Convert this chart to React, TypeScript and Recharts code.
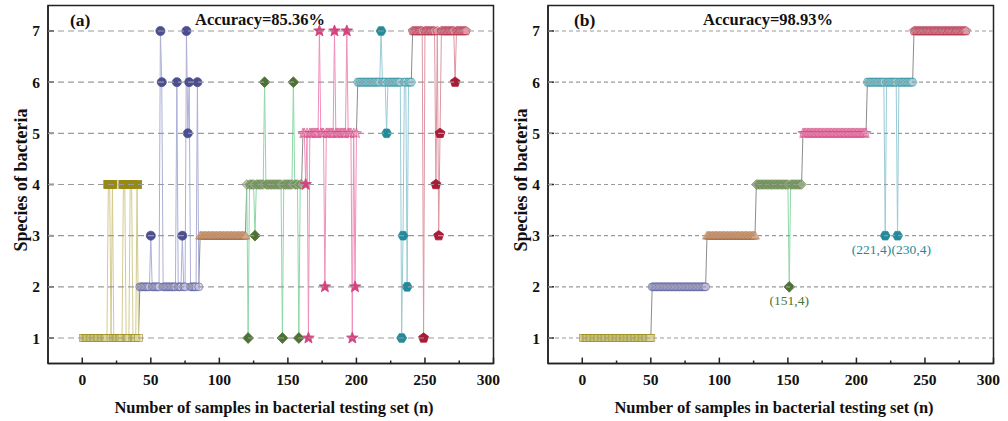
import React from 'react';
import { ScatterChart, Scatter, XAxis, YAxis, ReferenceLine, ReferenceArea } from 'recharts';

const speciesIds = [1, 2, 3, 4, 5, 6, 7];
const speciesColors = ['#968a14', '#4b4e90', '#a9693c', '#4d7233', '#d6407e', '#238a9b', '#a91b36'];
const speciesFills = ['#ddd59c', '#c4c5e4', '#d7aa86', '#8fae78', '#f0a0c4', '#a6d4dc', '#e39aa8'];
const speciesLines = ['#d3cb8f', '#adafd6', '#caa283', '#8ed8a8', '#ef90ba', '#99ccd6', '#dd96a3'];
const speciesMarkers = ['square', 'circle', 'triangle', 'diamond', 'star', 'hexagon', 'pentagon'];

// (a): last sample of each species block, and the misclassified samples
const blockEndA = [41, 85, 119, 160, 200, 240, 280];
const wrongSampleA = [19, 20, 22, 30, 31, 35, 36, 40, 50, 57, 58, 69, 73, 76, 77, 78, 84, 121, 126, 133, 146, 154, 158, 163, 165, 173, 177, 184, 193, 197, 199, 218, 222, 233, 234, 237, 249, 258, 260, 261, 272];
const wrongPredA = [4, 4, 4, 4, 4, 4, 4, 4, 3, 7, 6, 6, 3, 7, 5, 6, 6, 1, 3, 6, 1, 6, 1, 4, 1, 7, 2, 7, 7, 1, 2, 7, 5, 1, 3, 2, 1, 4, 3, 5, 6];

// (b)
const blockEndB = [50, 90, 126, 160, 207, 241, 280];
const wrongSampleB = [151, 221, 230];
const wrongPredB = [2, 3, 3];
const notesB = ['(151,4)', '(221,4)', '(230,4)'];
const noteAnchorB = ['middle', 'end', 'start'];

const xTicks = [0, 50, 100, 150, 200, 250, 300];
const xMinorTicks = [25, 75, 125, 175, 225, 275];
const yTicks = [1, 2, 3, 4, 5, 6, 7];

const serif = "'Liberation Serif', 'Times New Roman', serif";

type Pt = { x: number; y: number; note?: string };

function buildBlocks(blockEnd: number[], wrongSample: number[], wrongPred: number[], notes?: string[]) {
  const blocks: Pt[][] = [];
  let n = 1;
  blockEnd.forEach((end, i) => {
    const pts: Pt[] = [];
    for (; n <= end; n++) {
      const k = wrongSample.indexOf(n);
      pts.push({ x: n, y: k >= 0 ? wrongPred[k] : speciesIds[i], note: k >= 0 && notes ? notes[k] : undefined });
    }
    blocks.push(pts);
  });
  return blocks;
}

function ring(cx: number, cy: number, n: number, rad: number, start: number, inner?: number) {
  const count = inner ? n * 2 : n;
  const pts: string[] = [];
  for (let k = 0; k < count; k++) {
    const a = start + (k * 2 * Math.PI) / count;
    const rr = inner && k % 2 ? inner : rad;
    pts.push(`${(cx + rr * Math.cos(a)).toFixed(2)},${(cy + rr * Math.sin(a)).toFixed(2)}`);
  }
  return pts.join(' ');
}

function markerNode(kind: string, cx: number, cy: number, r: number, style: any) {
  const up = -Math.PI / 2;
  switch (kind) {
    case 'square':
      return <rect x={cx - r} y={cy - r * 0.9} width={2 * r} height={1.8 * r} {...style} />;
    case 'circle':
      return <circle cx={cx} cy={cy} r={r} {...style} />;
    case 'triangle':
      return <polygon points={ring(cx, cy + r * 0.2, 3, r * 1.3, up)} {...style} />;
    case 'diamond':
      return <polygon points={ring(cx, cy, 4, r * 1.2, up)} {...style} />;
    case 'star':
      return <polygon points={ring(cx, cy, 5, r * 1.35, up, r * 0.58)} {...style} />;
    case 'hexagon':
      return <polygon points={ring(cx, cy, 6, r * 1.1, 0)} {...style} />;
    default:
      return <polygon points={ring(cx, cy, 5, r * 1.15, up)} {...style} />;
  }
}

const empty = () => <g />;

function Panel({ blocks, dash }: { blocks: Pt[][]; dash: string }) {
  const joins = blocks.slice(1).map((b, i) => [blocks[i][blocks[i].length - 1], b[0]]);

  const renderMarker = (props: any, i: number) => {
    const { cx, cy, payload } = props;
    if (cx == null || cy == null) return <g />;
    const wrong = payload.y !== speciesIds[i];
    const style = wrong
      ? { fill: speciesColors[i], stroke: speciesColors[i], strokeWidth: 0.8 }
      : { fill: speciesFills[i], fillOpacity: 0.55, stroke: speciesColors[i], strokeOpacity: 0.8, strokeWidth: 0.7 };
    const k = payload.note ? notesB.indexOf(payload.note) : -1;
    const anchor = k >= 0 ? noteAnchorB[k] : 'middle';
    const dx = anchor === 'end' ? 6 : anchor === 'start' ? -6 : 0;
    return (
      <g>
        {markerNode(speciesMarkers[i], cx, cy, wrong ? 4.5 : 4, style)}
        {payload.note && (
          <text x={cx + dx} y={cy + 18.5} textAnchor={anchor} fontFamily={serif} fontSize={13.5} fill={speciesColors[i]}>
            {payload.note}
          </text>
        )}
      </g>
    );
  };

  const tickStyle = { fontFamily: serif, fontSize: 15.5, fontWeight: 'bold', fill: '#111' };

  return (
    <ScatterChart width={500} height={421} margin={{ top: 5.4, right: 6.5, bottom: 0, left: 0 }}>
      <XAxis
        type="number"
        dataKey="x"
        domain={[-25, 300]}
        ticks={xTicks}
        allowDataOverflow
        height={57.4}
        tickSize={-6}
        tickMargin={16}
        axisLine={{ stroke: '#222', strokeWidth: 1.5 }}
        tickLine={{ stroke: '#222', strokeWidth: 1.5 }}
        tick={tickStyle}
      />
      <YAxis
        type="number"
        dataKey="y"
        domain={[0.5, 7.5]}
        ticks={yTicks}
        allowDataOverflow
        width={48}
        tickSize={-6}
        tickMargin={14}
        axisLine={{ stroke: '#222', strokeWidth: 1.5 }}
        tickLine={{ stroke: '#222', strokeWidth: 1.5 }}
        tick={tickStyle}
      />
      <ReferenceArea x1={-25} x2={300} y1={0.5} y2={7.5} fill="none" stroke="#222" strokeWidth={1.5} />
      {joins.map((seg, i) => (
        <Scatter key={'j' + i} data={seg} line={{ stroke: '#8c8c8c', strokeWidth: 1 }} shape={empty} isAnimationActive={false} />
      ))}
      {blocks.map((b, i) => (
        <Scatter key={'l' + i} data={b} line={{ stroke: speciesLines[i], strokeWidth: 1 }} shape={empty} isAnimationActive={false} />
      ))}
      {blocks.map((b, i) => (
        <Scatter key={'m' + i} data={b} shape={(p: any) => renderMarker(p, i)} isAnimationActive={false} />
      ))}
      {yTicks.map((t) => (
        <ReferenceLine key={'g' + t} y={t} stroke="#9a9a9a" strokeWidth={1.2} strokeDasharray={dash} zIndex={700} />
      ))}
      {xMinorTicks.map((t) => (
        <ReferenceLine key={'mt' + t} segment={[{ x: t, y: 0.5 }, { x: t, y: 0.56 }]} stroke="#222" strokeWidth={1.5} />
      ))}
    </ScatterChart>
  );
}

export default function App() {
  const blocksA = buildBlocks(blockEndA, wrongSampleA, wrongPredA);
  const blocksB = buildBlocks(blockEndB, wrongSampleB, wrongPredB, notesB);
  const title = { fontFamily: serif, fontWeight: 'bold', fill: '#111' } as const;

  return (
    <div style={{ position: 'absolute', left: 0, top: 0, width: 1008, height: 421, background: '#fff' }}>
      <div style={{ position: 'absolute', left: 0, top: 0 }}>
        <Panel blocks={blocksA} dash="6 4" />
      </div>
      <div style={{ position: 'absolute', left: 500, top: 0 }}>
        <Panel blocks={blocksB} dash="4 3" />
      </div>
      <svg width={1008} height={421} style={{ position: 'absolute', left: 0, top: 0, pointerEvents: 'none' }}>
        <text x={70} y={26} fontSize={17.5} {...title}>(a)</text>
        <text x={260} y={24.5} fontSize={16.5} textAnchor="middle" {...title}>Accuracy=85.36%</text>
        <text x={574} y={26} fontSize={17.5} {...title}>(b)</text>
        <text x={768} y={24.5} fontSize={16.5} textAnchor="middle" {...title}>Accuracy=98.93%</text>
        <text x={274} y={413} fontSize={16.5} textAnchor="middle" {...title}>Number of samples in bacterial testing set (n)</text>
        <text x={774} y={413} fontSize={16.5} textAnchor="middle" {...title}>Number of samples in bacterial testing set (n)</text>
        <text transform="translate(26.5,180) rotate(-90)" fontSize={18} textAnchor="middle" {...title}>Species of bacteria</text>
        <text transform="translate(526.5,180) rotate(-90)" fontSize={18} textAnchor="middle" {...title}>Species of bacteria</text>
      </svg>
    </div>
  );
}
